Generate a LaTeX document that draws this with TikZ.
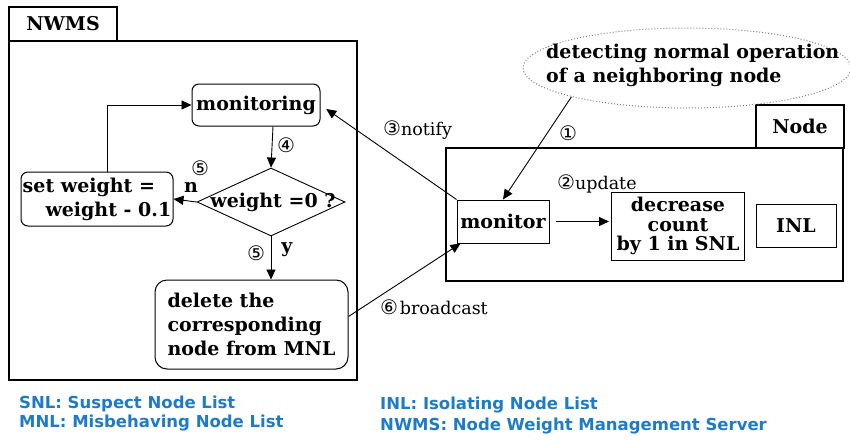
\documentclass[tikz,border=0pt]{standalone}
\usepackage{fontspec}
\setmainfont{DejaVu Serif}
\newfontfamily\legfont{DejaVu Sans}
\newfontfamily\circfont{DejaVu Sans}
\usetikzlibrary{shapes.geometric,arrows.meta,calc}
\definecolor{legblue}{RGB}{30,123,200}
\newcommand{\bx}{\fontsize{19}{24}\selectfont\bfseries}
\newcommand{\bxt}{\fontsize{19}{19.5}\selectfont\bfseries}
\newcommand{\lb}{\fontsize{17.5}{19}\selectfont}
\newcommand{\cn}[1]{{\circfont\fontsize{20}{20}\selectfont #1}}
\begin{document}
\begin{tikzpicture}[x=1pt,y=-1pt,
  box/.style={draw,line width=1pt,inner sep=0pt,align=center,font=\bx},
  rbox/.style={box,rounded corners=7pt},
  frame/.style={draw,line width=1.3pt},
  arr/.style={-{Triangle[length=10pt,width=9pt]},line width=0.9pt},
  leg/.style={anchor=west,text=legblue,font=\legfont\bfseries\fontsize{16.5}{18}\selectfont,inner sep=0pt}]
\useasboundingbox (0,0) rectangle (850,439);
% frames
\draw[frame] (9,7) rectangle (117,41);
\node[font=\bx] (nwmslbl) at (63,24) {NWMS};
\draw[frame] (9,41) rectangle (357,380);
\draw[frame] (756,105) rectangle (844,148);
\node[font=\bx] (nodelbl) at (800,126) {Node};
\draw[frame] (446,148) rectangle (843,281);
% ellipse
\node[draw=gray,dotted,line width=1pt,ellipse,minimum width=328pt,minimum height=80pt,inner sep=0pt] (ell) at (687,68) {};
\node[anchor=north west,align=left,font=\fontsize{19}{24}\selectfont\bfseries,inner sep=0pt] (elltxt) at (546,44) {detecting normal operation\\of a neighboring node};
% NWMS boxes
\node[rbox,minimum width=128pt,minimum height=42pt] (mon) at (256,105) {monitoring};
\node[draw,line width=0.9pt,diamond,minimum width=148pt,minimum height=68pt,inner sep=0pt,aspect=2.18] (dec) at (271,202) {};
\node[font=\bx,inner sep=0pt] (dectxt) at (273,202) {weight =0 ?};
\node[rbox,minimum width=152pt,minimum height=54pt,align=left] (setw) at (97,199) {set weight =\\\hspace*{1.2em}weight - 0.1};
\node[rbox,minimum width=193pt,minimum height=89pt,align=left,rounded corners=12pt] (del) at (251.5,324.5) {delete the\\corresponding\\node from MNL};
% Node boxes
\node[box,minimum width=92pt,minimum height=43pt] (mtr) at (503,221.5) {monitor};
\node[box,minimum width=133pt,minimum height=68pt,font=\bxt] (decr) at (678,226) {decrease\\count\\by 1 in SNL};
\node[box,minimum width=80pt,minimum height=43pt] (inl) at (796,225.5) {INL};
% connectors
\draw[arr] (mon.south -| 273,0) -- (dec.north);
\draw[arr] (dec.west) -- (setw.east);
\draw[arr] (setw.north -| 107,0) |- (mon.west);
\draw[arr] (dec.south) -- (del.north -| dec.south);
\draw[arr] (ell.194.9) -- (mtr.north);
\draw[arr,shorten >=7pt] (mtr.north west) -- (mon.east);
\draw[arr,shorten <=6pt,shorten >=2pt] (mtr.east) -- (mtr.east -| decr.west);
\draw[arr] ([yshift=8pt]del.east) -- ([xshift=4pt]mtr.south west);
% labels
\node (l4) at (286,145) {\cn{④}};
\node (l5a) at (200,168) {\cn{⑤}};
\node[font=\bx] (ln) at (191,187) {n};
\node (l5b) at (256,253) {\cn{⑤}};
\node[font=\bx] (ly) at (287,250) {y};
\node[anchor=west,inner sep=0pt] (l3) at (383,130) {\cn{③}\lb notify};
\node (l1) at (568,133) {\cn{①}};
\node[anchor=west,inner sep=0pt] (l2) at (557,184) {\cn{②}\lb update};
\node[anchor=west,inner sep=0pt] (l6) at (380,307) {\cn{⑥}\,\lb broadcast};
% legend
\node[leg] (g1) at (19,404) {SNL: Suspect Node List};
\node[leg] (g2) at (19,423) {MNL: Misbehaving Node List};
\node[leg] (g3) at (380,405) {INL: Isolating Node List};
\node[leg] (g4) at (380,426) {NWMS: Node Weight Management Server};
\end{tikzpicture}
\end{document}
